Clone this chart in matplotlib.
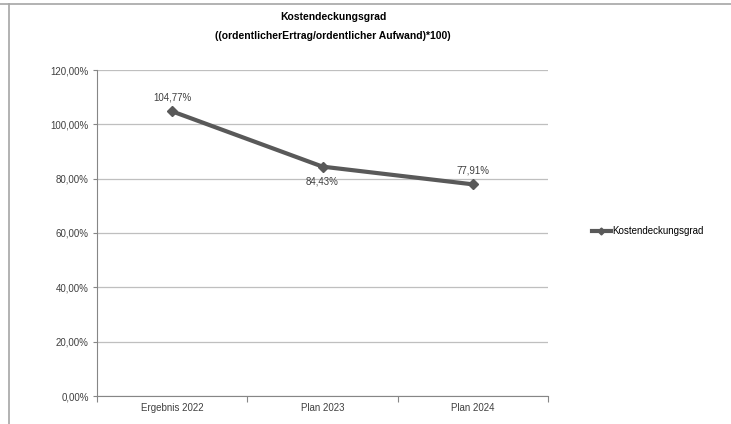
import numpy as np
import matplotlib as mpl
mpl.use('Agg')
from matplotlib import pyplot as plt
from matplotlib.lines import Line2D

categories = ["Ergebnis 2022", "Plan 2023", "Plan 2024"]
values = [104.77, 84.43, 77.91]
labels = ["104,77%", "84,43%", "77,91%"]
label_offsets = [10, -11, 10]
yticks = [0, 20, 40, 60, 80, 100, 120]
series_name = "Kostendeckungsgrad"

plt.rcParams['font.family'] = ['Liberation Sans', 'DejaVu Sans']

fig = plt.figure(figsize=(7.31, 4.24), dpi=100)
ax = fig.add_axes([97/731, 1 - 396/424, (548 - 97)/731, (396 - 70)/424])

x = np.arange(len(categories)) + 0.5
line, = ax.plot(x, values, color="#595959", linewidth=3, marker="D",
                markersize=5, label=series_name)

for xi, v, lab, off in zip(x, values, labels, label_offsets):
    ax.annotate(lab, (xi, v), xytext=(0, off), textcoords="offset points",
                ha="center", va="center", fontsize=7, color="#404040")

ax.set_xlim(0, 3)
ax.set_ylim(0, 120)
ax.set_yticks(yticks)
ax.set_yticklabels(["%d,00%%" % t for t in yticks], fontsize=7, color="#404040")
ax.set_xticks([0, 1, 2, 3])
ax.set_xticklabels([])
ax.set_xticks(x, minor=True)
ax.set_xticklabels(categories, minor=True, fontsize=7, color="#404040")
ax.tick_params(axis="x", which="minor", length=0, pad=5)
ax.tick_params(axis="x", which="major", length=4, color="#868686")
ax.tick_params(axis="y", length=3, color="#868686", pad=3)
ax.grid(axis="y", color="#bfbfbf", linewidth=0.9)
ax.set_axisbelow(True)
for s in ["top", "right"]:
    ax.spines[s].set_visible(False)
for s in ["left", "bottom"]:
    ax.spines[s].set_color("#868686")

fig.text(333/731, 1 - 17/424, "Kostendeckungsgrad", ha="center", va="center",
         fontsize=7.5, fontweight="bold")
fig.text(333/731, 1 - 36/424, "((ordentlicherErtrag/ordentlicher Aufwand)*100)",
         ha="center", va="center", fontsize=7.5, fontweight="bold")

fig.legend(handles=[line], loc="center left", bbox_to_anchor=(583/731, 1 - 231/424),
           frameon=False, fontsize=7, handlelength=2.0, handletextpad=0.1,
           markerscale=0.7)

# outer chart border (left and top)
fig.add_artist(Line2D([9/731, 9/731], [0, 1 - 4/424], transform=fig.transFigure,
                      color="#a6a6a6", linewidth=1.2))
fig.add_artist(Line2D([0, 1], [1 - 4/424, 1 - 4/424], transform=fig.transFigure,
                      color="#a6a6a6", linewidth=1.2))

fig.savefig("out.png", dpi=100)
